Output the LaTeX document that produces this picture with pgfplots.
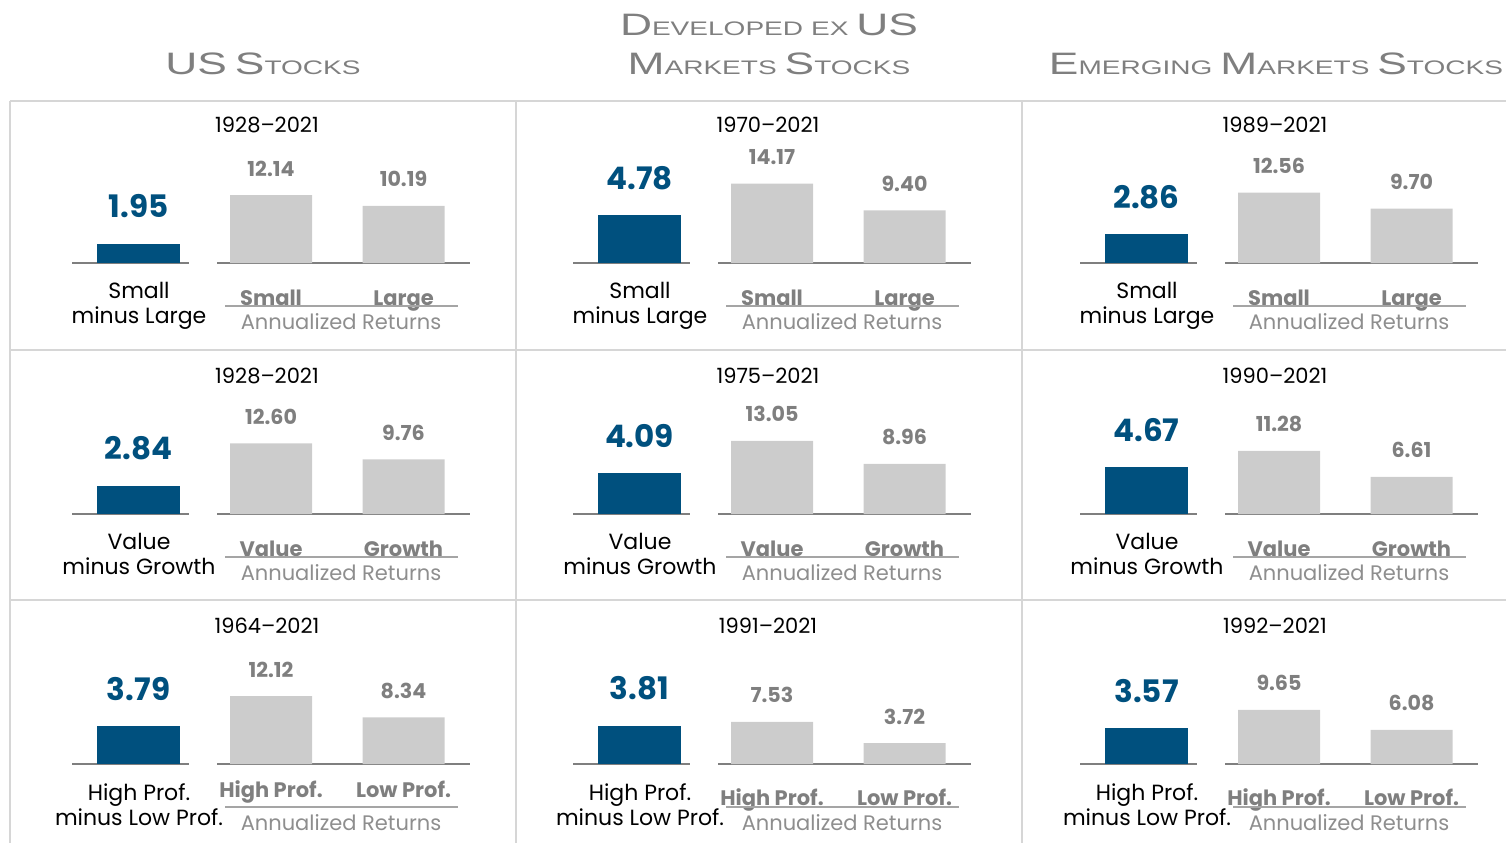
\documentclass[border=0pt]{standalone}
\usepackage{fontspec}
\setmainfont{Poppins}
\newfontfamily\ttlfont[FakeStretch=1.43]{Liberation Sans}
\usepackage{pgfplots}
\pgfplotsset{compat=1.18}

\definecolor{dfablue}{HTML}{00507E}
\definecolor{bargray}{HTML}{CCCCCC}
\definecolor{axgray}{HTML}{7F7F7F}
\definecolor{txtgray}{HTML}{7F7F7F}
\definecolor{lightgray}{HTML}{8E8E8E}
\definecolor{gridgray}{HTML}{D6D6D6}

\newcommand\Bg[1]{{\fontsize{15.5}{16}\selectfont #1}}
\newcommand\Sm[1]{{\fontsize{9.8}{10}\selectfont #1}}

\pgfplotsset{
  panelax/.style={ybar, x=0.5pt, anchor=south west, xmin=0, ymin=0, clip=false,
    axis x line*=bottom, axis y line=none, ytick=\empty, major tick length=0pt,
    x axis line style={-, draw=axgray, line width=1pt},
    point meta=explicit symbolic, nodes near coords,
    every node near coord/.append style={anchor=base, inner sep=0pt}},
  blueax/.style={panelax, y=5pt, xmax=117, ymax=6, bar width=41.5pt, xtick=\empty,
    every node near coord/.append style={font=\bfseries\fontsize{15.5}{16}\selectfont, text=dfablue, yshift=13pt}},
  grayax/.style={panelax, y=2.8pt, xmax=253, ymax=16, bar width=41pt, xtick={54,186.5},
    xticklabel style={font=\bfseries\fontsize{10.5}{12}\selectfont, text=txtgray, anchor=base, inner sep=0pt, yshift=\Cshift},
    every node near coord/.append style={font=\bfseries\fontsize{10.3}{12}\selectfont, text=txtgray, yshift=9.5pt}},
}

% #1 panel base x, #2 baseline y (in px, 1px = 0.5pt), #3 period, #4 premium, #5 #6 returns
\newcommand\panel[6]{%
  \node[font=\fontsize{10.5}{12}\selectfont, anchor=base] at (#1+257,#2+131) {#3};
  \begin{axis}[blueax, at={({(#1+62)*0.5pt},{#2*0.5pt})}]
    \addplot[fill=dfablue, draw=none] coordinates {(66.5,#4) [#4]};
  \end{axis}
  \begin{axis}[grayax, at={({(#1+207)*0.5pt},{#2*0.5pt})}, xticklabels={\Ca,\Cb}]
    \addplot[fill=bargray, draw=none] coordinates {(54,#5) [#5] (186.5,#6) [#6]};
  \end{axis}
  \node[font=\fontsize{11}{12.5}\selectfont, align=center, anchor=north, inner sep=0pt] at (#1+129,#2-19) {\La\\\Lb};
  \draw[axgray!70, line width=0.8pt] (#1+215,#2-43) -- (#1+448,#2-43);
  \node[font=\fontsize{10.5}{12}\selectfont, text=lightgray, anchor=base] at (#1+331,#2-66) {Annualized Returns};
}

\begin{document}
\begin{tikzpicture}[x=0.5pt,y=0.5pt]
\useasboundingbox (0,0) rectangle (1506,843);

% column titles
\begin{scope}[every node/.style={font=\ttlfont, text=txtgray, anchor=base, inner sep=0pt}]
  \node at (263,769) {\Bg{US} \Bg{S}\Sm{TOCKS}};
  \node at (769,807) {\Bg{D}\Sm{EVELOPED} \Sm{EX} \Bg{US}};
  \node at (769,769) {\Bg{M}\Sm{ARKETS} \Bg{S}\Sm{TOCKS}};
  \node at (1276,769) {\Bg{E}\Sm{MERGING} \Bg{M}\Sm{ARKETS} \Bg{S}\Sm{TOCKS}};
\end{scope}

% panel grid
\draw[gridgray, line width=1pt] (10,742) -- (1506,742) (10,493) -- (1506,493) (10,243) -- (1506,243);
\draw[gridgray, line width=1pt] (10,742) -- (10,0) (516,742) -- (516,0) (1022,742) -- (1022,0);

% size premium
\def\La{Small}\def\Lb{minus Large}\def\Ca{Small}\def\Cb{Large}\def\Cshift{-21pt}
\panel{10}{580}{1928--2021}{1.95}{12.14}{10.19}
\panel{511}{580}{1970--2021}{4.78}{14.17}{9.40}
\panel{1018}{580}{1989--2021}{2.86}{12.56}{9.70}

% value premium
\def\La{Value}\def\Lb{minus Growth}\def\Ca{Value}\def\Cb{Growth}
\panel{10}{329}{1928--2021}{2.84}{12.60}{9.76}
\panel{511}{329}{1975--2021}{4.09}{13.05}{8.96}
\panel{1018}{329}{1990--2021}{4.67}{11.28}{6.61}

% profitability premium
\def\La{High Prof.}\def\Lb{minus Low Prof.}\def\Ca{High Prof.}\def\Cb{Low Prof.}
\def\Cshift{-16.5pt}
\panel{10}{79}{1964--2021}{3.79}{12.12}{8.34}
\def\Cshift{-20.5pt}
\panel{511}{79}{1991--2021}{3.81}{7.53}{3.72}
\panel{1018}{79}{1992--2021}{3.57}{9.65}{6.08}
\end{tikzpicture}
\end{document}
